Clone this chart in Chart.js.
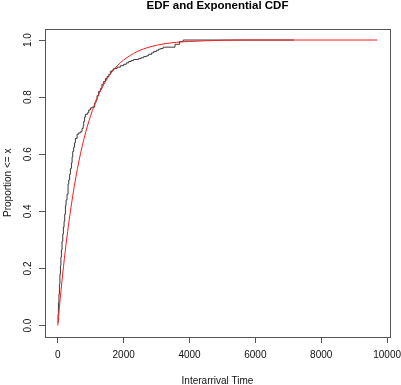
<!DOCTYPE html>
<html><head><meta charset="utf-8">
<script src="https://cdn.jsdelivr.net/npm/chart.js@4/dist/chart.umd.min.js"></script>
<style>html,body{margin:0;padding:0;background:#fff}#wrap{width:401px;height:385px}</style>
</head><body><div id="wrap"><canvas id="c" width="401" height="385"></canvas></div>
<script>
const titleText = "EDF and Exponential CDF";
const xTitle = "Interarrival Time";
const yTitle = "Proportion <= x";
const xTicks = [0, 2000, 4000, 6000, 8000, 10000];
const yTicks = [0, 0.2, 0.4, 0.6, 0.8, 1.0];

// empirical distribution function (black step line)
const edfX = [9, 20, 35, 50, 65, 80, 95, 110, 130, 151, 170, 191, 210, 232, 252, 282, 312, 333, 360, 383,
  414, 435, 454, 484, 510, 535, 586, 636, 700, 737, 770, 788, 815, 838, 900, 940, 990, 1041, 1121, 1160,
  1192, 1240, 1293, 1340, 1395, 1450, 1496, 1550, 1597, 1650, 1698, 1799, 1900, 2001, 2080, 2153, 2230, 2305, 2456, 2530,
  2608, 2700, 2760, 2850, 2912, 3000, 3063, 3120, 3200, 3560, 3700, 3810, 7170];
const edfP = [0.01, 0.04, 0.08, 0.11, 0.145, 0.18, 0.21, 0.24, 0.265, 0.295, 0.32, 0.345, 0.365, 0.39, 0.42, 0.44, 0.46, 0.495, 0.51, 0.53,
  0.55, 0.57, 0.59, 0.61, 0.625, 0.64, 0.655, 0.67, 0.675, 0.68, 0.69, 0.70, 0.715, 0.73, 0.74, 0.745, 0.755, 0.762, 0.765, 0.78,
  0.79, 0.805, 0.82, 0.83, 0.845, 0.855, 0.865, 0.872, 0.88, 0.89, 0.895, 0.90, 0.905, 0.91, 0.915, 0.92, 0.925, 0.928, 0.932, 0.935,
  0.938, 0.942, 0.945, 0.95, 0.955, 0.96, 0.964, 0.968, 0.97, 0.975, 0.985, 0.995, 1.0];

// exponential CDF (red curve)
const expX = [0, 50, 100, 150, 200, 300, 400, 500, 600, 700, 800, 1000, 1200, 1400, 1600, 1800, 2000, 2400, 2800, 3200, 3600, 4000, 5000, 6000, 7000, 8000, 9700];
const expP = [0, 0.064, 0.125, 0.181, 0.234, 0.330, 0.413, 0.487, 0.551, 0.607, 0.656, 0.736, 0.798, 0.845, 0.882, 0.909, 0.930, 0.959, 0.976, 0.986, 0.992, 0.995, 0.999, 1.0, 1.0, 1.0, 1.0];

const FONT = "'Liberation Sans', Arial, Helvetica, sans-serif";
const AXIS = '#555';

const boxPlugin = {
  id: 'box',
  afterDatasetsDraw(chart) {
    const a = chart.chartArea, ctx = chart.ctx;
    ctx.save();
    ctx.strokeStyle = AXIS;
    ctx.lineWidth = 1;
    const l = Math.round(a.left) + 0.5, t = Math.round(a.top) + 0.5;
    const r = Math.round(a.right) + 0.5, b = Math.round(a.bottom) + 0.5;
    ctx.strokeRect(l, t, r - l, b - t);
    ctx.restore();
  }
};

new Chart(document.getElementById('c'), {
  type: 'line',
  data: {
    datasets: [
      {
        label: 'Exponential CDF',
        data: expX.map((x, i) => ({x: x, y: expP[i]})),
        borderColor: '#ff1a1a',
        borderWidth: 1,
        pointRadius: 0,
        fill: false,
        cubicInterpolationMode: 'monotone'
      },
      {
        label: 'EDF',
        data: edfX.map((x, i) => ({x: x, y: edfP[i]})),
        borderColor: '#3a3a3a',
        borderWidth: 1,
        pointRadius: 0,
        fill: false,
        stepped: 'after'
      }
    ]
  },
  options: {
    responsive: false,
    animation: false,
    devicePixelRatio: 1,
    layout: {padding: {top: 0, right: 11, bottom: 0, left: 0}},
    plugins: {
      legend: {display: false},
      tooltip: {enabled: false},
      title: {
        display: true,
        text: titleText,
        fullSize: false,
        color: '#000',
        font: {family: FONT, size: 11.5, weight: 'bold', lineHeight: 1.0},
        padding: {top: 0, bottom: 17.1}
      }
    },
    scales: {
      x: {
        type: 'linear',
        min: -388,
        max: 10088,
        afterBuildTicks: s => { s.ticks = xTicks.map(v => ({value: v})); },
        afterFit: s => { s.height = 48; s.paddingLeft = 0; s.paddingRight = 0; },
        grid: {display: true, drawOnChartArea: false, drawTicks: true, tickLength: 6, color: AXIS},
        border: {display: false},
        ticks: {color: '#111', font: {family: FONT, size: 10}, padding: 6, maxRotation: 0, autoSkip: false,
          callback: v => String(v)},
        title: {display: true, text: xTitle, color: '#111', font: {family: FONT, size: 10}, padding: {top: 0, bottom: -2}}
      },
      y: {
        type: 'linear',
        min: -0.04,
        max: 1.04,
        afterBuildTicks: s => { s.ticks = yTicks.map(v => ({value: v})); },
        afterFit: s => { s.width = 45; s.paddingTop = 0; s.paddingBottom = 0; },
        grid: {display: true, drawOnChartArea: false, drawTicks: true, tickLength: 6, color: AXIS},
        border: {display: false},
        ticks: {color: '#111', font: {family: FONT, size: 10}, padding: 3.5, minRotation: 90, maxRotation: 90,
          crossAlign: 'center', autoSkip: false, callback: v => v.toFixed(1)},
        title: {display: true, text: yTitle, color: '#111', font: {family: FONT, size: 10}, padding: {top: 2, bottom: 0}}
      }
    }
  },
  plugins: [boxPlugin]
});
</script>
</body></html>
